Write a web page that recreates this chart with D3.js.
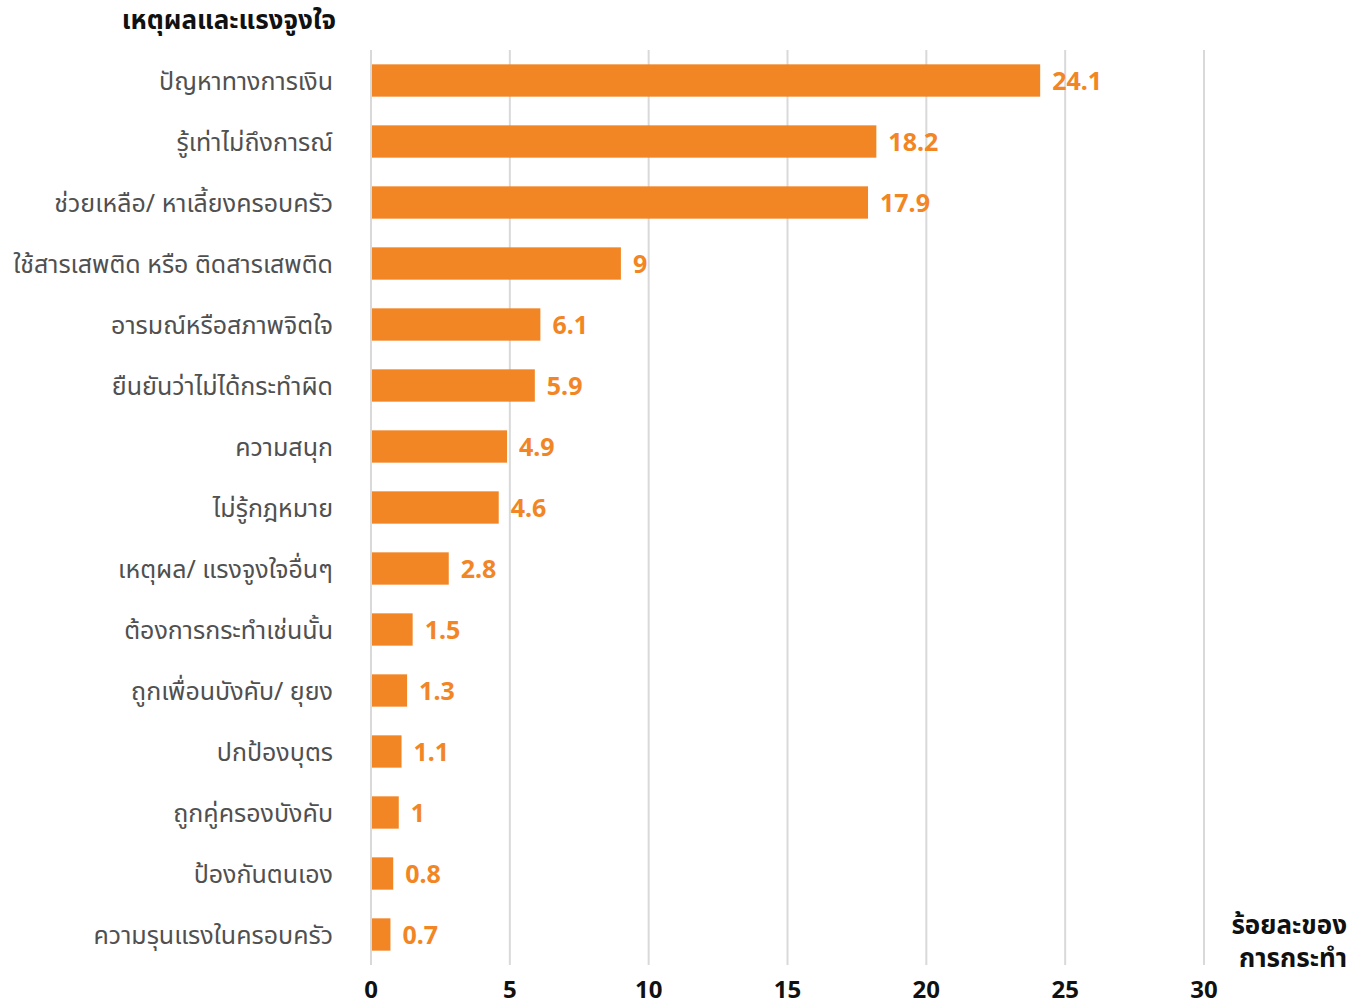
<!DOCTYPE html>
<html>
<head>
<meta charset="utf-8">
<script src="https://cdn.jsdelivr.net/npm/d3@7"></script>
<style>
  body { margin: 0; background: #fff; }
  svg text { font-family: "Noto Sans", "Noto Sans Thai", Tahoma, sans-serif; }
  .grid line { stroke: #d9d9d9; stroke-width: 2; }
  .cat { fill: #505050; font-size: 25px; }
  .val { fill: #f28524; font-size: 25px; font-weight: 700; }
  .tick-lbl { fill: #111; font-size: 24px; font-weight: 700; }
  .ttl { fill: #111; font-size: 26px; font-weight: 700; }
</style>
</head>
<body>
<script>
// Categories (top to bottom) and values in percent
var reasons = [
  "ปัญหาทางการเงิน",
  "รู้เท่าไม่ถึงการณ์",
  "ช่วยเหลือ/ หาเลี้ยงครอบครัว",
  "ใช้สารเสพติด หรือ ติดสารเสพติด",
  "อารมณ์หรือสภาพจิตใจ",
  "ยืนยันว่าไม่ได้กระทำผิด",
  "ความสนุก",
  "ไม่รู้กฎหมาย",
  "เหตุผล/ แรงจูงใจอื่นๆ",
  "ต้องการกระทำเช่นนั้น",
  "ถูกเพื่อนบังคับ/ ยุยง",
  "ปกป้องบุตร",
  "ถูกคู่ครองบังคับ",
  "ป้องกันตนเอง",
  "ความรุนแรงในครอบครัว"
];
var percents = [24.1, 18.2, 17.9, 9, 6.1, 5.9, 4.9, 4.6, 2.8, 1.5, 1.3, 1.1, 1, 0.8, 0.7];
var xTicks = [0, 5, 10, 15, 20, 25, 30];

var width = 1367, height = 1007;
var svg = d3.select("body").append("svg")
    .attr("width", width)
    .attr("height", height);

var xScale = d3.scaleLinear()
    .domain([0, 30])
    .range([371, 1204]);

var yScale = d3.scaleBand()
    .domain(reasons)
    .range([50, 965])
    .paddingInner(0.47)
    .paddingOuter(0.235);

// Gridlines
svg.append("g")
    .attr("class", "grid")
    .selectAll("line")
    .data(xTicks)
    .enter().append("line")
    .attr("x1", function(d) { return xScale(d); })
    .attr("x2", function(d) { return xScale(d); })
    .attr("y1", 50)
    .attr("y2", 965);

// Bars
svg.selectAll(".bar")
    .data(percents)
    .enter().append("rect")
    .attr("class", "bar")
    .attr("x", xScale(0) + 1)
    .attr("y", function(d, i) { return yScale(reasons[i]); })
    .attr("width", function(d) { return xScale(d) - xScale(0) - 1; })
    .attr("height", yScale.bandwidth())
    .attr("fill", "#f28524");

// Value labels
svg.selectAll(".val")
    .data(percents)
    .enter().append("text")
    .attr("class", "val")
    .attr("x", function(d) { return xScale(d) + 12; })
    .attr("y", function(d, i) { return yScale(reasons[i]) + yScale.bandwidth() / 2; })
    .attr("dy", "0.36em")
    .text(function(d) { return d; });

// Category labels
svg.selectAll(".cat")
    .data(reasons)
    .enter().append("text")
    .attr("class", "cat")
    .attr("x", 333)
    .attr("y", function(d) { return yScale(d) + yScale.bandwidth() / 2; })
    .attr("dy", "0.36em")
    .attr("text-anchor", "end")
    .text(function(d) { return d; });

// X tick labels
svg.selectAll(".tick-lbl")
    .data(xTicks)
    .enter().append("text")
    .attr("class", "tick-lbl")
    .attr("x", function(d) { return xScale(d); })
    .attr("y", 998)
    .attr("text-anchor", "middle")
    .text(function(d) { return d; });

// Titles
svg.append("text")
    .attr("class", "ttl")
    .attr("x", 336)
    .attr("y", 29)
    .attr("text-anchor", "end")
    .text("เหตุผลและแรงจูงใจ");

svg.append("text")
    .attr("class", "ttl")
    .attr("x", 1347)
    .attr("y", 934)
    .attr("text-anchor", "end")
    .text("ร้อยละของ");

svg.append("text")
    .attr("class", "ttl")
    .attr("x", 1347)
    .attr("y", 967)
    .attr("text-anchor", "end")
    .text("การกระทำ");
</script>
</body>
</html>
